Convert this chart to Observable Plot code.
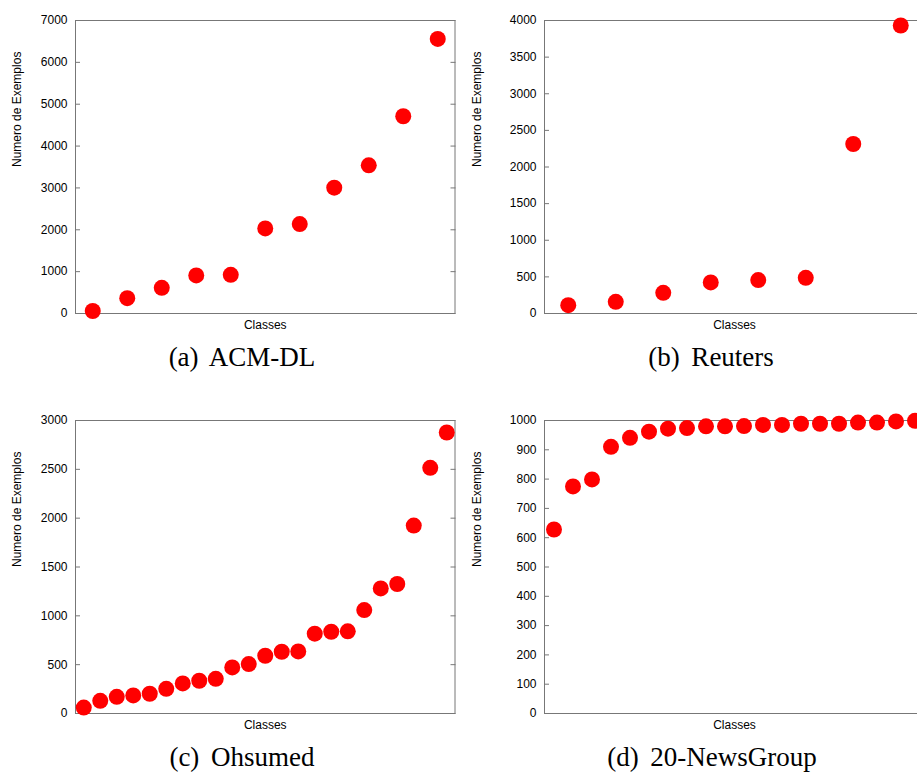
<!DOCTYPE html>
<html><head><meta charset="utf-8">
<script src="https://cdn.jsdelivr.net/npm/d3@7"></script>
<script src="https://cdn.jsdelivr.net/npm/@observablehq/plot@0.6"></script>
<style>
html,body{margin:0;padding:0;background:#fff;}
body{width:917px;height:772px;overflow:hidden;position:relative;}
.panel{position:absolute;}
.panel svg{max-width:none !important;display:block;}
.cap{position:absolute;width:320px;text-align:center;font-family:"Liberation Serif","Times New Roman",serif;font-size:27px;line-height:27px;word-spacing:5px;color:#000;white-space:nowrap;}
</style></head><body>
<script>
// Number of examples per class (sorted)
const acmCounts = [60, 367, 614, 909, 925, 2033, 2137, 3006, 3540, 4712, 6561];
const reutersCounts = [114, 159, 282, 424, 456, 487, 2314, 3932];
const ohsumedCounts = [61, 130, 171, 185, 202, 253, 308, 335, 355, 472, 506, 591, 632, 636, 817, 837, 841, 1059, 1281, 1326, 1924, 2515, 2877];
const newsCounts = [628, 775, 799, 910, 941, 962, 972, 974, 980, 980, 981, 985, 985, 989, 989, 989, 993, 993, 997, 999];

const acmTicks = [0, 1000, 2000, 3000, 4000, 5000, 6000, 7000];
const reutersTicks = [0, 500, 1000, 1500, 2000, 2500, 3000, 3500, 4000];
const ohsumedTicks = [0, 500, 1000, 1500, 2000, 2500, 3000];
const newsTicks = [0, 100, 200, 300, 400, 500, 600, 700, 800, 900, 1000];

const yLabel = "Numero de Exemplos";
const xLabel = "Classes";
const captions = ["(a) ACM-DL", "(b) Reuters", "(c) Ohsumed", "(d) 20-NewsGroup"];

function panel({counts, ticks, left, top, width, marginLeft, marginRight, caption, capCenter}) {
  const n = counts.length;
  const chart = Plot.plot({
    width, height: 340,
    marginLeft, marginRight, marginTop: 20, marginBottom: 27,
    style: {fontFamily: "'Liberation Sans', Arial, Helvetica, sans-serif", fontSize: "12px", background: "transparent", overflow: "visible"},
    x: {domain: [0.5, n + 0.5], axis: null},
    y: {domain: [ticks[0], ticks[ticks.length - 1]]},
    marks: [
      Plot.frame({stroke: "#777"}),
      Plot.axisY(ticks, {anchor: "left", tickSize: 5, dx: 5, tickFormat: () => "", label: null, stroke: "#777"}),
      Plot.axisY(ticks, {anchor: "right", tickSize: 5, dx: -5, tickFormat: () => "", label: null, stroke: "#777"}),
      Plot.axisY(ticks, {anchor: "left", tickSize: 0, tickPadding: 8, label: null, tickFormat: d => String(d), fill: "#000", fontSize: 12}),
      Plot.text([yLabel], {text: d => d, frameAnchor: "left", rotate: -90, dx: -(marginLeft - 17), fontSize: 12, fill: "#000"}),
      Plot.text([xLabel], {text: d => d, frameAnchor: "bottom", dy: 15.5, fontSize: 12, fill: "#000"}),
      Plot.dot(counts, {x: (d, i) => i + 1, y: d => d, r: 8, fill: "#ff0000", stroke: "none"})
    ]
  });
  const div = document.createElement("div");
  div.className = "panel";
  div.style.left = left + "px";
  div.style.top = top + "px";
  div.style.width = width + "px";
  div.appendChild(chart);
  document.body.appendChild(div);
  const cap = document.createElement("div");
  cap.className = "cap";
  cap.textContent = caption;
  cap.style.left = (capCenter - 160) + "px";
  cap.style.top = (top + 343.5) + "px";
  document.body.appendChild(cap);
}

panel({counts: acmCounts, ticks: acmTicks, left: 0, top: 0, width: 460, marginLeft: 75, marginRight: 5.5, caption: captions[0], capCenter: 242});
panel({counts: reutersCounts, ticks: reutersTicks, left: 460, top: 0, width: 464, marginLeft: 84, marginRight: 0, caption: captions[1], capCenter: 711});
panel({counts: ohsumedCounts, ticks: ohsumedTicks, left: 0, top: 400, width: 460, marginLeft: 75, marginRight: 5.5, caption: captions[2], capCenter: 242});
panel({counts: newsCounts, ticks: newsTicks, left: 460, top: 400, width: 464, marginLeft: 84, marginRight: 0, caption: captions[3], capCenter: 712});
</script>
</body></html>
